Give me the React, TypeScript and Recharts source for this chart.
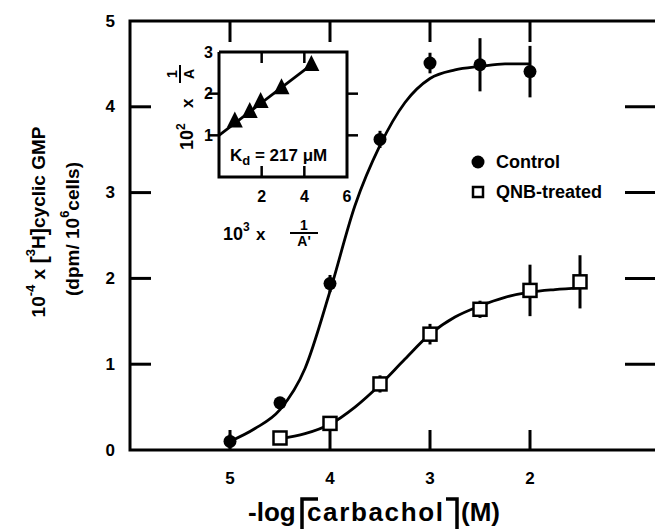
import React from 'react';
import { ComposedChart, Line, Scatter, XAxis, YAxis, ErrorBar, Legend } from 'recharts';

const FONT = '"Liberation Sans", Arial, sans-serif';

// main panel: -log[carbachol] (M) vs 10^-4 x cGMP
const controlX = [5, 4.5, 4, 3.5, 3, 2.5, 2];
const controlY = [0.1, 0.55, 1.94, 3.62, 4.51, 4.49, 4.41];
const controlErr = [0.08, 0.03, 0.1, 0.1, 0.12, 0.31, 0.3];

const qnbX = [4.5, 4, 3.5, 3, 2.5, 2, 1.5];
const qnbY = [0.14, 0.31, 0.77, 1.35, 1.64, 1.86, 1.96];
const qnbErr = [0, 0.05, 0.1, 0.12, 0.1, 0.3, 0.31];

// fitted curves
const controlFitX = [5, 4.75, 4.5, 4.25, 4, 3.75, 3.5, 3.25, 3, 2.75, 2.5, 2.25, 2];
const controlFitY = [0.1, 0.25, 0.47, 0.95, 1.85, 2.85, 3.55, 4.05, 4.33, 4.43, 4.47, 4.5, 4.5];
const qnbFitX = [4.5, 4.25, 4, 3.75, 3.5, 3.25, 3, 2.75, 2.5, 2.25, 2, 1.75, 1.5];
const qnbFitY = [0.13, 0.19, 0.3, 0.5, 0.76, 1.06, 1.35, 1.55, 1.68, 1.78, 1.84, 1.87, 1.89];

const xDomain = [0.65, 6];
const yDomain = [0, 5];
const xTicks = [5, 4, 3, 2];
const yTicks = [0, 1, 2, 3, 4, 5];
const innerYTicks = [1, 2, 3, 4];

// inset: double reciprocal plot
const insetX = [0.74, 1.44, 1.95, 2.93, 4.33];
const insetY = [1.33, 1.56, 1.8, 2.13, 2.69];
const insetFitX = [0, 4.4];
const insetFitY = [1.0, 2.72];
const insetXDomain = [0, 6];
const insetYDomain = [0, 3];
const insetXTicks = [2, 4, 6];
const insetYTicks = [1, 2, 3];

const zip = (xs: number[], ys: number[], es?: number[]) =>
  xs.map((x, i) => ({ x, y: ys[i], err: es ? es[i] : 0 }));

const controlData = zip(controlX, controlY, controlErr);
const qnbData = zip(qnbX, qnbY, qnbErr);
const controlFit = zip(controlFitX, controlFitY);
const qnbFit = zip(qnbFitX, qnbFitY);
const insetData = zip(insetX, insetY);
const insetFit = zip(insetFitX, insetFitY);

// frame outlines and inward tick marks, placed through the chart scales
const box = (xd: number[], yd: number[], closed: boolean) => {
  const pts = [
    { x: xd[0], y: yd[1] }, { x: xd[1], y: yd[1] }, { x: xd[1], y: yd[0] }, { x: xd[0], y: yd[0] },
  ];
  return closed ? [...pts, pts[0]] : pts;
};
const tickMarks = (xd: number[], yd: number[], xt: number[], yt: number[]) => [
  ...xt.map((x) => ({ x, y: yd[0], side: 'bottom' })),
  ...xt.map((x) => ({ x, y: yd[1], side: 'top' })),
  ...yt.map((y) => ({ x: xd[1], y, side: 'left' })),
  ...yt.map((y) => ({ x: xd[0], y, side: 'right' })),
];
const mainFrame = box(xDomain, yDomain, false);
const mainTicks = tickMarks(xDomain, yDomain, xTicks, innerYTicks);
const insetFrame = box(insetXDomain, insetYDomain, true);
const insetTicks = tickMarks(insetXDomain, insetYDomain, [2, 4], [1, 2]);

// plot box of main chart
const L = 130, T = 21, R = 665, B = 450;
// plot box of inset (chart coords)
const IL = 59, IT = 12, IR = 187, IB = 137;

const Dot = (p: any) => <circle cx={p.cx} cy={p.cy} r={6.5} fill="#000" />;
const Box = (p: any) => (
  <rect x={p.cx - 6.5} y={p.cy - 6.5} width={13} height={13} fill="#fff" stroke="#000" strokeWidth={2.5} />
);
const Tri = (p: any) => (
  <polygon points={`${p.cx},${p.cy - 10} ${p.cx - 8},${p.cy + 6} ${p.cx + 8},${p.cy + 6}`} fill="#000" />
);

const makeTickMark = (len: { bottom: number; top: number; left: number; right: number }, w: number) => (p: any) => {
  const s = p.payload.side;
  const d =
    s === 'bottom' ? `M${p.cx},${p.cy} v${-len.bottom}` :
    s === 'top' ? `M${p.cx},${p.cy} v${len.top}` :
    s === 'left' ? `M${p.cx},${p.cy} h${len.left}` :
    `M${p.cx},${p.cy} h${-len.right}`;
  return <path d={d} stroke="#000" strokeWidth={w} fill="none" />;
};
const MainTickMark = makeTickMark({ bottom: 20, top: 21, left: 21, right: 40 }, 3);
const InsetTickMark = makeTickMark({ bottom: 11, top: 11, left: 11, right: 11 }, 2.5);

const txt = { fontFamily: FONT, fontWeight: 'bold' as const, fill: '#000' };

const BottomLabel = (p: any) => (
  <text x={p.x} y={478} textAnchor="middle" dominantBaseline="central" fontSize={17} {...txt}>{p.payload.value}</text>
);
const LeftLabel = (p: any) => (
  <text x={115} y={p.y} textAnchor="end" dominantBaseline="central" fontSize={17} {...txt}>{p.payload.value}</text>
);
const InsetBottomLabel = (p: any) => (
  <text x={p.x} y={156} textAnchor="middle" dominantBaseline="central" fontSize={16} {...txt}>{p.payload.value}</text>
);
const InsetLeftLabel = (p: any) => (
  <text x={53} y={p.y} textAnchor="end" dominantBaseline="central" fontSize={16} {...txt}>{p.payload.value}</text>
);

const YTitle = () => (
  <g fontFamily={FONT} fontWeight="bold" fill="#000">
    <text transform="rotate(-90 38 222)" x={38} y={222} textAnchor="middle" dominantBaseline="central" fontSize={19}>
      10<tspan fontSize={13} dy={-8}>-4</tspan>
      <tspan dy={8}> x </tspan>
      <tspan fontSize={22}>[</tspan>
      <tspan fontSize={13} dy={-8}>3</tspan>
      <tspan dy={8}>H</tspan>
      <tspan fontSize={22}>]</tspan>cyclic GMP
    </text>
    <text transform="rotate(-90 72 229)" x={72} y={229} textAnchor="middle" dominantBaseline="central" fontSize={19}>
      (dpm/ 10<tspan fontSize={13} dy={-8}>6</tspan>
      <tspan dy={8}>cells)</tspan>
    </text>
  </g>
);

const XTitle = () => (
  <g fontFamily={FONT} fontWeight="bold" fill="#000" fontSize={26}>
    <text x={248} y={521}>-log</text>
    <path d="M 302 540 V 499 H 318" stroke="#000" strokeWidth={3.5} fill="none" />
    <text x={307} y={521} textLength={136} lengthAdjust="spacing">carbachol</text>
    <path d="M 446 499 H 457 V 540" stroke="#000" strokeWidth={3.5} fill="none" />
    <text x={461} y={521}>(M)</text>
  </g>
);

const LegendBox = () => (
  <div style={{ fontFamily: FONT, fontWeight: 'bold', fontSize: 18, lineHeight: '30px', color: '#000' }}>
    <div style={{ display: 'flex', alignItems: 'center' }}>
      <svg width={20} height={20}><circle cx={9} cy={10} r={6.5} fill="#000" /></svg>
      <span style={{ marginLeft: 7 }}>Control</span>
    </div>
    <div style={{ display: 'flex', alignItems: 'center' }}>
      <svg width={20} height={20}><rect x={4} y={5} width={10} height={10} fill="#fff" stroke="#000" strokeWidth={2.5} /></svg>
      <span style={{ marginLeft: 7 }}>QNB-treated</span>
    </div>
  </div>
);

const InsetYTitle = () => (
  <g transform="translate(20 64) rotate(-90)" fontFamily={FONT} fontWeight="bold" fill="#000">
    <text x={-46} y={13} fontSize={18}>10<tspan fontSize={12} dy={-8}>2</tspan></text>
    <text x={-4} y={13} fontSize={17}>x</text>
    <text x={30} y={-3} textAnchor="middle" fontSize={14}>1</text>
    <path d="M21,0 H39" stroke="#000" strokeWidth={2} />
    <text x={30} y={14} textAnchor="middle" fontSize={14}>A</text>
  </g>
);
const InsetXTitle = () => (
  <g fontFamily={FONT} fontWeight="bold" fill="#000">
    <text x={63} y={200} fontSize={18}>10<tspan fontSize={12} dy={-9}>3</tspan></text>
    <text x={96} y={200} fontSize={17}>x</text>
    <text x={144} y={190} textAnchor="middle" fontSize={14}>1</text>
    <path d="M130,193 H158" stroke="#000" strokeWidth={2} />
    <text x={144} y={206} textAnchor="middle" fontSize={14}>A'</text>
    <text x={70} y={121} fontSize={17}>K<tspan fontSize={13} dy={4}>d</tspan><tspan dy={-4}> = 217 μM</tspan></text>
  </g>
);

const layer: React.CSSProperties = { position: 'absolute', left: 0, top: 0 };

export default function App() {
  return (
    <div style={{ position: 'absolute', left: 0, top: 0, width: 655, height: 529, overflow: 'hidden', background: '#fff' }}>
      <div style={layer}>
        <ComposedChart width={680} height={529} margin={{ top: T, right: 680 - R, bottom: 0, left: 0 }}>
          <XAxis dataKey="x" type="number" domain={xDomain} reversed ticks={xTicks} height={529 - B}
            axisLine={false} tickLine={false} tick={<BottomLabel />} label={<XTitle />} />
          <YAxis dataKey="y" type="number" domain={yDomain} ticks={yTicks} width={L}
            axisLine={false} tickLine={false} tick={<LeftLabel />} label={<YTitle />} />
          <Line data={mainFrame} dataKey="y" type="linear" dot={false} activeDot={false} stroke="#000" strokeWidth={3}
            legendType="none" isAnimationActive={false} />
          <Scatter data={mainTicks} dataKey="y" shape={<MainTickMark />} legendType="none" isAnimationActive={false} />
          <Line data={controlFit} dataKey="y" type="monotone" dot={false} activeDot={false} stroke="#000" strokeWidth={2.8} isAnimationActive={false} />
          <Line data={qnbFit} dataKey="y" type="monotone" dot={false} activeDot={false} stroke="#000" strokeWidth={2.8} isAnimationActive={false} />
          <Scatter name="Control" data={controlData} dataKey="y" shape={<Dot />} isAnimationActive={false}>
            <ErrorBar dataKey="err" direction="y" width={0} stroke="#000" strokeWidth={3} />
          </Scatter>
          <Scatter name="QNB-treated" data={qnbData} dataKey="y" shape={<Box />} isAnimationActive={false}>
            <ErrorBar dataKey="err" direction="y" width={0} stroke="#000" strokeWidth={3} />
          </Scatter>
          <Legend layout="horizontal" verticalAlign="middle" align="center" content={<LegendBox />}
            wrapperStyle={{ position: 'absolute', left: 469, top: 147, width: 180 }} />
        </ComposedChart>
      </div>

      <div style={{ ...layer, left: 160, top: 40 }}>
        <ComposedChart width={200} height={215} margin={{ top: IT, right: 200 - IR, bottom: 0, left: 0 }}>
          <XAxis dataKey="x" type="number" domain={insetXDomain} ticks={insetXTicks} height={215 - IB}
            axisLine={false} tickLine={false} tick={<InsetBottomLabel />} label={<InsetXTitle />} />
          <YAxis dataKey="y" type="number" domain={insetYDomain} ticks={insetYTicks} width={IL}
            axisLine={false} tickLine={false} tick={<InsetLeftLabel />} label={<InsetYTitle />} />
          <Line data={insetFrame} dataKey="y" type="linear" dot={false} activeDot={false} stroke="#000" strokeWidth={3}
            isAnimationActive={false} />
          <Scatter data={insetTicks} dataKey="y" shape={<InsetTickMark />} isAnimationActive={false} />
          <Line data={insetFit} dataKey="y" type="linear" dot={false} activeDot={false} stroke="#000" strokeWidth={2.8} isAnimationActive={false} />
          <Scatter data={insetData} dataKey="y" shape={<Tri />} isAnimationActive={false} />
        </ComposedChart>
      </div>
    </div>
  );
}
